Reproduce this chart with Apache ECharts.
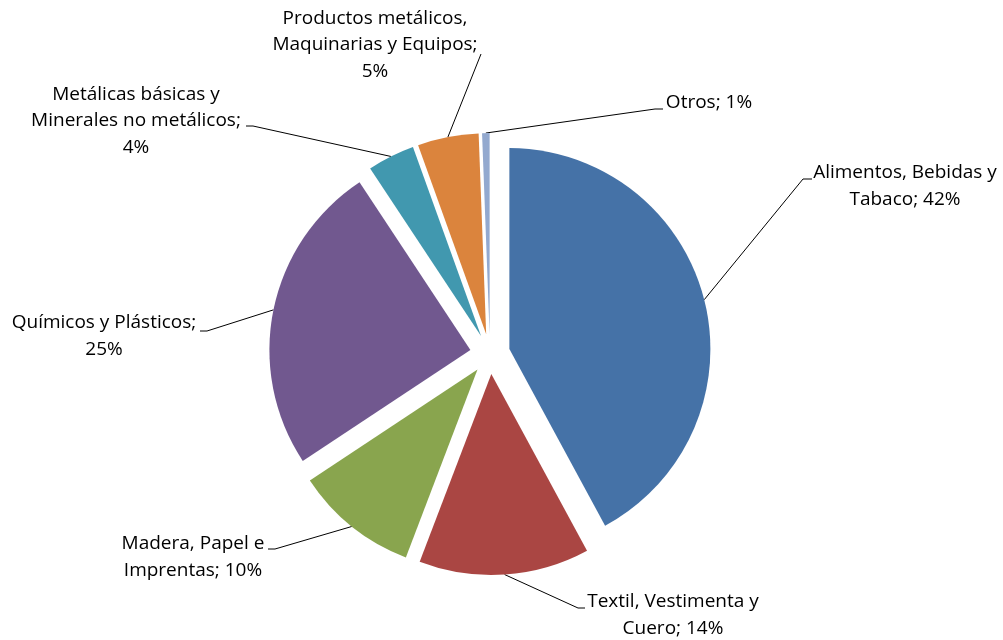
<!DOCTYPE html>
<html><head><meta charset="utf-8">
<script src="https://cdn.jsdelivr.net/npm/echarts@6/dist/echarts.min.js"></script>
<style>html,body{margin:0;padding:0;background:#fff}#c{width:1003px;height:640px}</style>
</head><body><div id="c"></div>
<script>
// ---- data ----
const categories = ['Alimentos, Bebidas y Tabaco', 'Textil, Vestimenta y Cuero', 'Madera, Papel e Imprentas', 'Químicos y Plásticos', 'Metálicas básicas y Minerales no metálicos', 'Productos metálicos, Maquinarias y Equipos', 'Otros'];
const shares = [42.1, 13.7, 9.9, 25.0, 3.8, 4.9, 0.6];
const labelNames = ['Alimentos, Bebidas y\nTabaco', 'Textil, Vestimenta y\nCuero', 'Madera, Papel e\nImprentas', 'Químicos y Plásticos', 'Metálicas básicas y\nMinerales no metálicos', 'Productos metálicos,\nMaquinarias y Equipos', 'Otros'];
const breakBeforePct = [false, false, false, true, true, true, false];
const colors = ['#4572A7', '#AA4643', '#89A54E', '#71588F', '#4198AF', '#DB843D', '#93A9CF'];

// ---- layout ----
const pieCenter = [490, 354];
const pieRadius = 201;
const explode = 20;
const labelPos = [[905, 186], [673, 615], [193, 557], [104, 336], [136, 121], [375, 45], [709, 103]];
const lineBend = [[803, 179], [578, 608], [275, 549], [207, 331], [253, 126], [481, 54], [655, 109]];
const lineEnd  = [[812, 179], [585, 608], [268, 549], [200, 331], [246, 126], [481, 54], [663, 109]];

// explosion offset of each slice along its mid-angle (exploded pie)
const total = shares.reduce((a, b) => a + b, 0);
let cum = 0;
const offsets = shares.map(v => {
  const mid = (cum + v / 2) / total * 2 * Math.PI;
  cum += v;
  return [explode * Math.sin(mid), -explode * Math.cos(mid)];
});

const labelStyle = {
  show: true,
  position: 'outside',
  alignTo: 'none',
  color: '#000',
  fontFamily: 'Open Sans',
  fontSize: 19,
  lineHeight: 26.5,
  formatter: p => labelNames[p.dataIndex] + ';' + (breakBeforePct[p.dataIndex] ? '\n' : ' ') + Math.round(p.value) + '%'
};

// one pie layer per slice, each shifted outward: the exploded look of the original
const series = categories.map((_, k) => ({
  type: 'pie',
  center: [pieCenter[0] + offsets[k][0], pieCenter[1] + offsets[k][1]],
  radius: pieRadius,
  startAngle: 90,
  clockwise: true,
  avoidLabelOverlap: false,
  silent: true,
  emphasis: {disabled: true},
  data: categories.map((c, i) => ({
    name: c, value: shares[i],
    itemStyle: {color: i === k ? colors[i] : 'rgba(0,0,0,0)', borderWidth: 0},
    label: i === k ? labelStyle : {show: false},
    labelLine: i === k ? {show: true, length: 10, length2: 10, lineStyle: {color: '#000', width: 1}} : {show: false}
  })),
  labelLayout: function (p) {
    const i = p.dataIndex;
    if (i !== k) return {};
    const pts = p.labelLinePoints;
    const start = pts ? pts[0] : lineBend[i];
    return {
      x: labelPos[i][0], y: labelPos[i][1],
      align: 'center', verticalAlign: 'middle',
      labelLinePoints: [start, lineBend[i], lineEnd[i]]
    };
  }
}));

const chart = echarts.init(document.getElementById('c'), null, {renderer: 'canvas'});
chart.setOption({animation: false, backgroundColor: '#fff', series: series});
</script></body></html>
